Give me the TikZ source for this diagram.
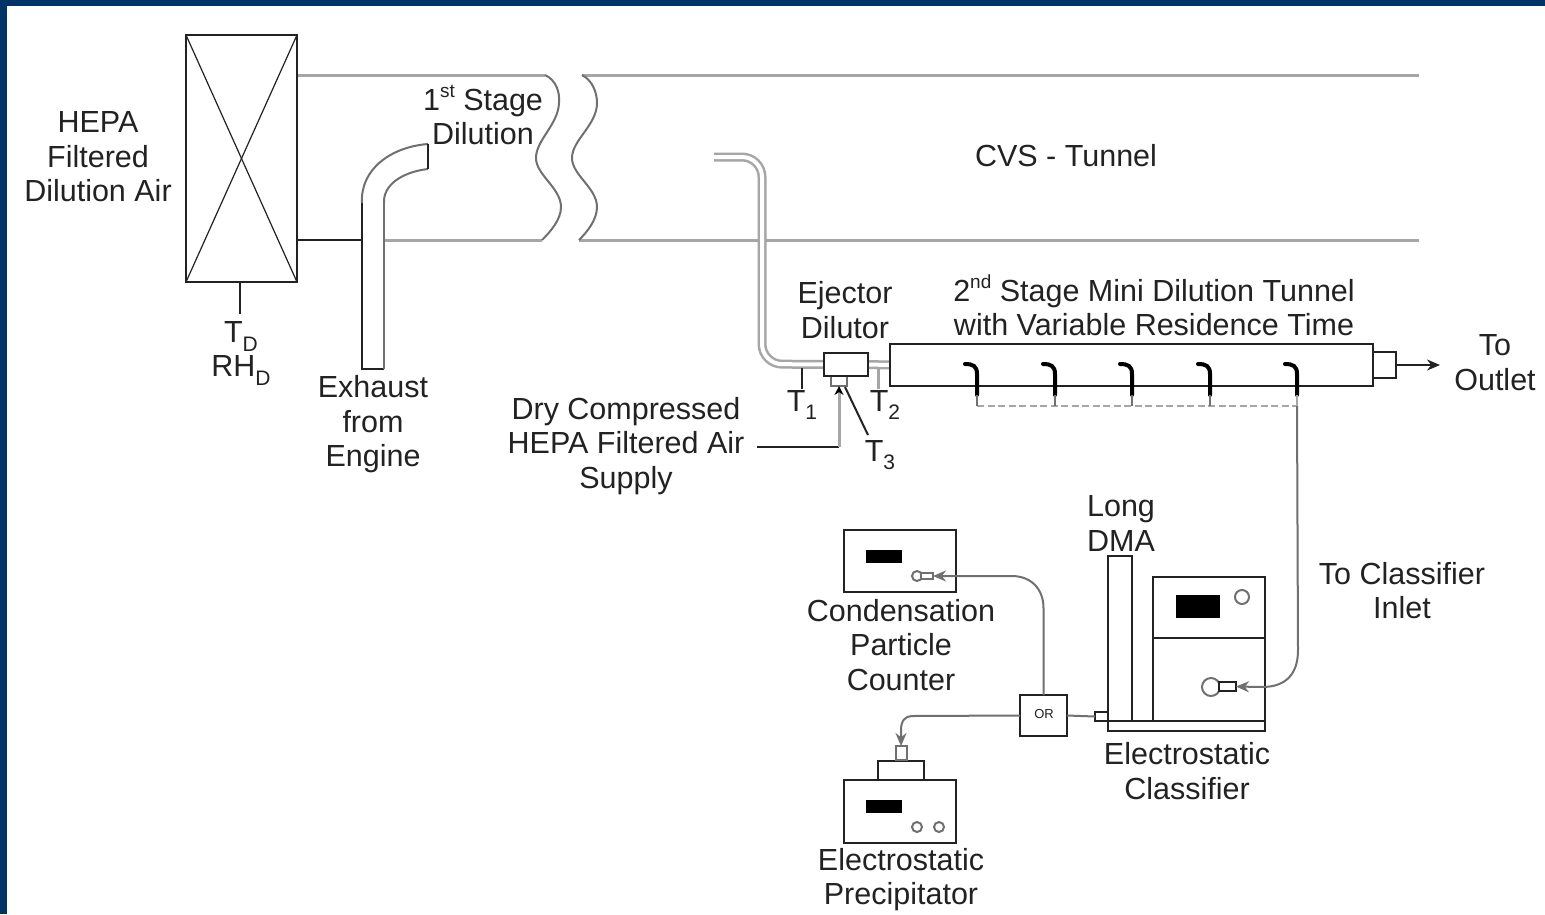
\documentclass[tikz,border=0pt]{standalone}
\usepackage{fontspec}
\setmainfont{Liberation Sans}
\usetikzlibrary{arrows.meta}
\definecolor{navy}{HTML}{003366}
\definecolor{ink}{HTML}{222222}
\definecolor{pipe}{HTML}{A6A6A6}
\definecolor{midline}{HTML}{707070}
\newcommand{\subs}[1]{\raisebox{-0.28em}{\fontsize{21}{21}\selectfont #1}}
\newcommand{\sups}[1]{\raisebox{0.42em}{\fontsize{19}{19}\selectfont #1}}
\tikzset{
  lbl/.style={text=ink,align=center,inner sep=0pt,font=\fontsize{30.5}{34.5}\selectfont},
  box/.style={draw=ink,line width=2pt,fill=white,inner sep=0pt,outer sep=0pt},
  solid box/.style={fill=black,inner sep=0pt,outer sep=0pt},
  knob/.style={circle,draw=midline,line width=2pt,fill=white,inner sep=0pt,outer sep=0pt},
  wall/.style={draw=pipe,line width=3pt},
  thin wall/.style={draw=midline,line width=2pt},
  dark/.style={draw=ink,line width=2pt},
  tube/.style={draw=pipe,line width=2.5pt,double=white,double distance=4pt},
  hose/.style={draw=midline,line width=2pt},
  tip/.style={-{Stealth[length=13pt,width=11pt]},shorten >=0pt},
  probe/.style={draw=black,line width=4pt,line cap=round},
}
\begin{document}
\begin{tikzpicture}[x=1pt,y=-1pt]
\useasboundingbox (0,0) rectangle (1545,914);
\fill[navy] (0,0) rectangle (1545,914);
\fill[white] (7,6) rectangle (1545,914);

% first-stage tunnel
\coordinate (tla) at (297,75);
\coordinate (tlb) at (545,75);
\coordinate (tlc) at (542,240);
\coordinate (tld) at (384,240);
\coordinate (tra) at (582,75);
\coordinate (trb) at (1419,75);
\coordinate (trc) at (579,240);
\coordinate (trd) at (1419,240);
\draw[wall] (tla) -- (tlb);
\draw[wall] (tld) -- (tlc);
\draw[wall] (tra) -- (trb);
\draw[wall] (trc) -- (trd);
\draw[thin wall] (tlb) .. controls (556,80) and (560,92) .. (559,103)
  .. controls (558,125) and (536,140) .. (536,158)
  .. controls (536,175) and (561,188) .. (561,207)
  .. controls (561,220) and (550,232) .. (tlc);
\draw[thin wall] (tra) .. controls (592,80) and (597,92) .. (597,103)
  .. controls (597,125) and (572,140) .. (572,158)
  .. controls (572,175) and (597,188) .. (597,207)
  .. controls (597,220) and (587,232) .. (trc);

% HEPA filter
\node[box,minimum width=111,minimum height=247] (hepa) at (241.5,158.5) {};
\draw[draw=ink,line width=1.2pt] (hepa.north west) -- (hepa.south east);
\draw[draw=ink,line width=1.2pt] (hepa.north east) -- (hepa.south west);
\coordinate (hepafoot) at (240,314);
\draw[dark] (240,282) -- (hepafoot);
\coordinate (pipeleft) at (362,240);
\draw[dark] (297,240) -- (pipeleft);

% exhaust pipe
\coordinate (pa) at (362,369);
\coordinate (pb) at (384,369);
\coordinate (pc) at (362,203);
\coordinate (pd) at (384,203);
\coordinate (pe) at (428,144);
\coordinate (pf) at (428,169);
\draw[dark] (pc) -- (pa) -- (pb);
\draw[hose] (pb) -- (pd);
\draw[thin wall] (pc) .. controls (360,170) and (390,147) .. (pe);
\draw[thin wall] (pd) .. controls (383,185) and (402,172) .. (pf);
\draw[dark] (pe) -- (pf);

% sampling tube and ejector
\node[box,minimum width=44,minimum height=23] (ejector) at (846,364.5) {};
\node[box,minimum width=16,minimum height=10,draw=midline] (nozzle) at (839,381) {};
\node[box,minimum width=483,minimum height=42] (mini) at (1131.5,365) {};
\node[box,minimum width=23,minimum height=26] (outlet) at (1384.5,365) {};
\coordinate (probeend) at (714,157);
\draw[tube,rounded corners=20pt] (probeend) -- (762,157) -- (762,364) -- (ejector.west);
\draw[tube] (ejector.east) -- (mini.west);
\draw[line width=2pt,draw=ink] (ejector.north west) rectangle (ejector.south east);
\draw[line width=2pt,draw=ink] (mini.north west) rectangle (mini.south east);
\coordinate (outlettip) at (1440,365);
\draw[dark,tip] (outlet.east) -- (outlettip);

% temperature taps
\coordinate (tone) at (802,389);
\coordinate (ttwo) at (878,389);
\coordinate (tthree) at (868,435);
\coordinate (supply) at (757,447);
\coordinate (supplycorner) at (839,447);
\draw[dark] (802,368) -- (tone);
\draw[draw=pipe,line width=3pt] (878,369) -- (ttwo);
\draw[dark] (845,387) -- (tthree);
\draw[dark] (supply) -- (supplycorner);
\draw[draw=pipe,line width=3pt,-{Stealth[length=9pt,width=9pt,color=black]}] (supplycorner) -- (nozzle.south -| supplycorner);

% probes along the mini tunnel
\foreach \px/\pn in {977/a,1055/b,1132/c,1210/d,1297/e}{
  \coordinate (pb\pn) at (\px,395);
  \draw[probe] (\px-12,364) .. controls (\px-4,364) and (\px,366) .. (\px,374) -- (pb\pn);
}
\coordinate (rake) at (1297,406);
\draw[draw=pipe,line width=2.5pt,dash pattern=on 7pt off 3.5pt] (977,406) -- (rake);
\foreach \pn in {a,b,c,d}{\draw[draw=midline,line width=1.2pt] (pb\pn) -- ++(0,11);}

% electrostatic classifier
\node[box,minimum width=24,minimum height=165] (dma) at (1120,638) {};
\node[box,minimum width=112,minimum height=61] (ccu) at (1209,607.5) {};
\node[box,minimum width=112,minimum height=83] (cclow) at (1209,679.5) {};
\node[box,minimum width=157,minimum height=10] (base) at (1186.5,726) {};
\node[solid box,minimum width=44,minimum height=23] (ccdisplay) at (1198,606.5) {};
\node[knob,minimum size=14] (ccknob) at (1242,597) {};
\node[knob,minimum size=18] (ccport) at (1211,687) {};
\node[box,minimum width=17,minimum height=9] (ccinlet) at (1227.5,686.5) {};
\node[box,minimum width=13,minimum height=9] (ccout) at (1101.5,716.5) {};
\draw[hose,tip] (rake) -- (1298,650) .. controls (1298,675) and (1285,687) .. (1262,687) -- (ccinlet.east);
\draw[draw=pipe,line width=2pt] (pbe) -- (rake);

% OR switch
\node[box,minimum width=47,minimum height=41] (orbox) at (1043.5,715.5) {};
\node[text=ink,inner sep=0pt,font=\fontsize{13}{13}\selectfont] (ortext) at (1044,714.5) {OR};
\draw[hose] (orbox.east) -- (ccout.west);

% condensation particle counter
\node[box,minimum width=112,minimum height=62] (cpc) at (900,561) {};
\node[solid box,minimum width=36,minimum height=13] (cpcdisplay) at (884,556.5) {};
\node[knob,minimum size=10] (cpcknob) at (917,576) {};
\node[box,minimum width=12,minimum height=6,draw=midline] (cpcinlet) at (927,576) {};
\draw[hose,tip] (orbox.north) -- (1043.5,608) .. controls (1043.5,588) and (1030,576) .. (1012,576) -- (cpcinlet.east);

% electrostatic precipitator
\node[box,minimum width=112,minimum height=63] (esp) at (900,811.5) {};
\node[box,minimum width=46,minimum height=19] (esptop) at (901,770.5) {};
\node[box,minimum width=11,minimum height=14,draw=midline] (espinlet) at (901,753) {};
\node[solid box,minimum width=36,minimum height=13] (espdisplay) at (884,806.5) {};
\node[knob,minimum size=10] (espknoba) at (917,827) {};
\node[knob,minimum size=10] (espknobb) at (939,827) {};
\draw[hose,tip] (orbox.west) -- (912,716) .. controls (905,716) and (901,721) .. (901,730) -- (espinlet.north);

% labels
\node[lbl] (lhepa) at (98,157) {HEPA\\Filtered\\Dilution Air};
\node[lbl] (lfirst) at (483,115) {1\sups{st} Stage\\Dilution};
\node[lbl] (lcvs) at (1066,156) {CVS - Tunnel};
\node[lbl] (lej) at (845,310) {Ejector\\Dilutor};
\node[lbl] (lsecond) at (1154,305.5) {2\sups{nd} Stage Mini Dilution Tunnel\\with Variable Residence Time};
\node[lbl] (lout) at (1495,362.5) {To\\Outlet};
\node[lbl] (ltd) at (241,353.5) {T\subs{D}\\RH\subs{D}};
\node[lbl] (lexh) at (373,424.5) {Exhaust\\from\\Engine};
\node[lbl] (lone) at (802,405) {T\subs{1}};
\node[lbl] (ltwo) at (885,405) {T\subs{2}};
\node[lbl] (lthree) at (880,455) {T\subs{3}};
\node[lbl] (ldry) at (626,446) {Dry Compressed\\HEPA Filtered Air\\Supply};
\node[lbl] (llong) at (1121,523.5) {Long\\DMA};
\node[lbl] (lcl) at (1402,590.5) {To Classifier\\Inlet};
\node[lbl] (lcond) at (901,645) {Condensation\\Particle\\Counter};
\node[lbl] (lec) at (1187,771) {Electrostatic\\Classifier};
\node[lbl] (lprec) at (901,879.5) {Electrostatic\\Precipitator};
\end{tikzpicture}
\end{document}
